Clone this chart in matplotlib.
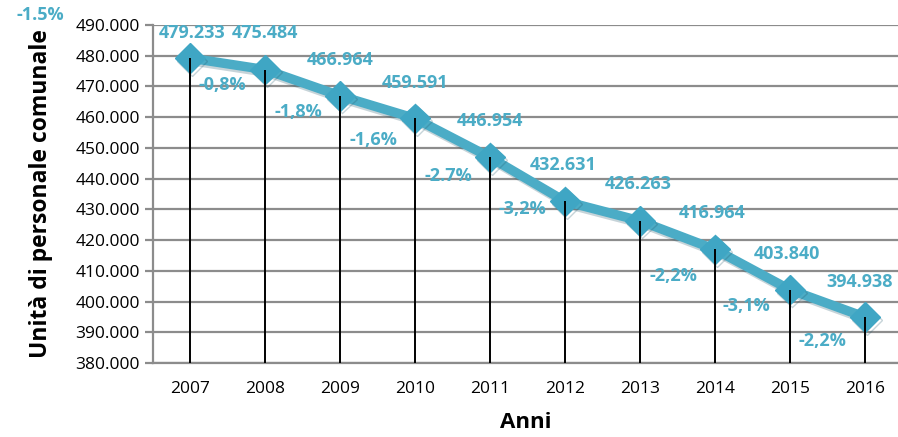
import matplotlib
matplotlib.use("Agg")
import matplotlib.pyplot as plt
import matplotlib.patheffects as pe
from matplotlib.ticker import FuncFormatter

years = ["2007", "2008", "2009", "2010", "2011", "2012", "2013", "2014", "2015", "2016"]
values = [479233, 475484, 466964, 459591, 446954, 432631, 426263, 416964, 403840, 394938]
value_labels = ["479.233", "475.484", "466.964", "459.591", "446.954",
                "432.631", "426.263", "416.964", "403.840", "394.938"]
pct_labels = ["", "-0,8%", "-1,8%", "-1,6%", "-2.7%", "-3,2%", "-1.5%", "-2,2%", "-3,1%", "-2,2%"]

# label offsets in pixels (image direction: +y downwards) relative to each point
val_off = [(2, -25), (0, -37), (0, -36), (0, -35), (0, -36), (-2, -36), (-2, -37), (-3, -36), (-3, -36), (-5, -35)]
pct_off = [None, (-43, 15), (-42, 16), (-42, 22), (-42, 19), (-43, 8), None, (-42, 27), (-44, 16), (-43, 24)]

color = "#4BACC6"
font = "Open Sans"
fs = 13

fig = plt.figure(figsize=(8.98, 4.37), dpi=100)
ax = fig.add_axes([152.5 / 898, 1 - 363 / 437, 1 - 152.5 / 898, (363 - 25) / 437])

x = list(range(len(years)))
ymin = 380000
ax.set_xlim(-0.5, 9.44)
ax.set_ylim(ymin, 490000)

ax.set_yticks(range(380000, 490001, 10000))
ax.yaxis.set_major_formatter(FuncFormatter(lambda v, p: f"{int(v):,}".replace(",", ".")))
ax.grid(axis="y", color="#8c8c8c", linewidth=1.6)
ax.set_axisbelow(True)

ax.plot(x, values, color=color, linewidth=6.8, marker="D", markersize=15,
        markerfacecolor="#3fa6c4", markeredgecolor="#3fa6c4", zorder=3,
        path_effects=[pe.SimpleLineShadow(offset=(1.5, -2), shadow_color="#20556a", alpha=0.25),
                      pe.Normal()])

ax.vlines(x, ymin, values, color="black", linewidth=1.4, zorder=4)

for i, (v, lab) in enumerate(zip(values, value_labels)):
    dx, dy = val_off[i]
    ax.annotate(lab, (i, v), xytext=(dx, -dy), textcoords="offset pixels",
                ha="center", va="center", color=color, fontsize=fs,
                fontweight="bold", family=font, zorder=5)
    if pct_off[i] is not None:
        dx, dy = pct_off[i]
        ax.annotate(pct_labels[i], (i, v), xytext=(dx, -dy), textcoords="offset pixels",
                    ha="center", va="center", color=color, fontsize=fs,
                    fontweight="bold", family=font, zorder=5)

fig.text(40 / 898, 1 - 15 / 437, pct_labels[6], ha="center", va="center", color=color,
         fontsize=fs, fontweight="bold", family=font)

ax.set_xticks(x)
ax.set_xticklabels(years)
for s in ["top", "right"]:
    ax.spines[s].set_visible(False)
for s in ["left", "bottom"]:
    ax.spines[s].set_color("#8c8c8c")
    ax.spines[s].set_linewidth(1.6)
ax.tick_params(axis="y", length=6, width=1.6, color="#8c8c8c", labelsize=12.5, pad=3)
ax.tick_params(axis="x", length=0, labelsize=12.5, pad=13)
for t in ax.get_xticklabels() + ax.get_yticklabels():
    t.set_family(font)
    t.set_color("black")

ax.set_xlabel("Anni", fontsize=16, fontweight="bold", family=font, labelpad=11)
ax.set_ylabel("Unità di personale comunale", fontsize=16.5, fontweight="bold", family=font, labelpad=16)

fig.savefig("out.png", dpi=100)
